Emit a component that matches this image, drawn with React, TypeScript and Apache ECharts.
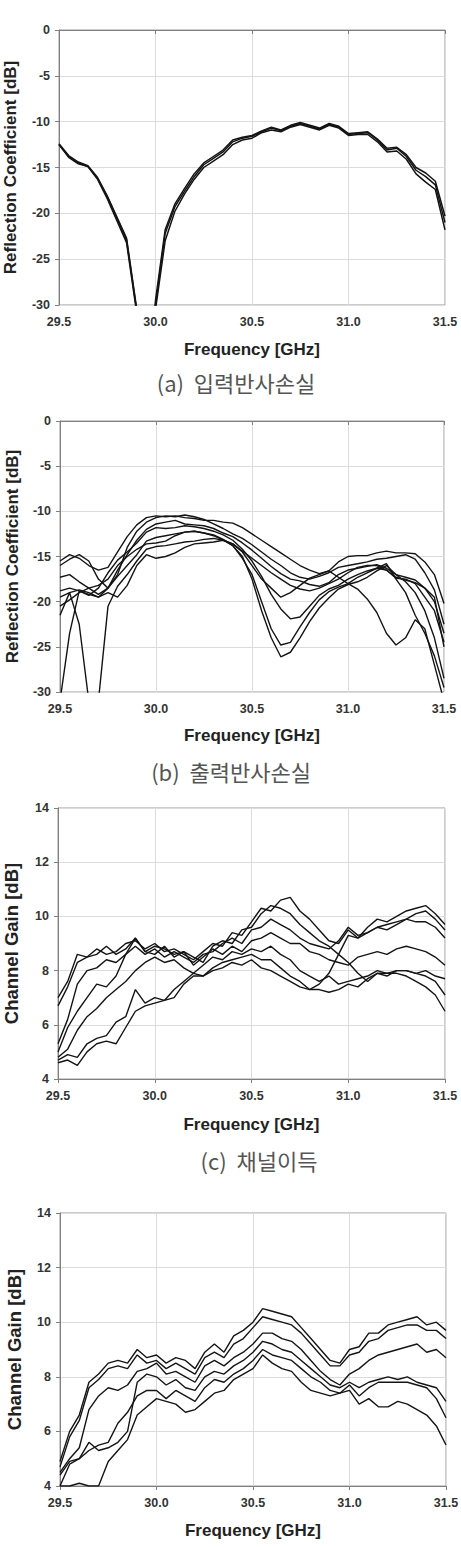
import React, { useEffect, useRef } from "react";
import * as echarts from "echarts";

// Frequency grid [GHz]
const FREQ = [
  29.5, 29.55, 29.6, 29.65, 29.7, 29.75, 29.8, 29.85, 29.9, 29.95,
  30.0, 30.05, 30.1, 30.15, 30.2, 30.25, 30.3, 30.35, 30.4, 30.45,
  30.5, 30.55, 30.6, 30.65, 30.7, 30.75, 30.8, 30.85, 30.9, 30.95,
  31.0, 31.05, 31.1, 31.15, 31.2, 31.25, 31.3, 31.35, 31.4, 31.45, 31.5,
];

const X_TICKS = [29.5, 30.0, 30.5, 31.0, 31.5];
const Y_TICKS_RL = [0, -5, -10, -15, -20, -25, -30];
const Y_TICKS_GAIN = [4, 6, 8, 10, 12, 14];

// (a) input reflection loss [dB]
const A1 = [-12.5, -13.8, -14.5, -14.9, -16.2, -18.2, -20.5, -22.9, -30.2, -40, -30.0, -22.2, -19.3, -17.6, -16.0, -14.7, -14.0, -13.3, -12.2, -11.8, -11.6, -11.1, -10.7, -11.0, -10.5, -10.2, -10.5, -10.8, -10.3, -10.6, -11.4, -11.3, -11.2, -12.0, -13.1, -12.9, -13.8, -15.3, -16.0, -16.9, -21.0];
const A2 = [-12.5, -13.9, -14.6, -14.9, -16.3, -18.4, -20.8, -23.2, -30.5, -40, -30.5, -23.0, -19.8, -17.9, -16.3, -15.0, -14.3, -13.6, -12.5, -12.0, -11.8, -11.2, -10.9, -11.1, -10.6, -10.3, -10.6, -10.9, -10.4, -10.7, -11.5, -11.4, -11.4, -12.2, -13.3, -13.2, -14.1, -15.7, -16.6, -17.4, -21.8];
const A3 = [-12.4, -13.7, -14.4, -14.8, -16.1, -18.1, -20.4, -22.7, -30.0, -40, -29.5, -21.8, -19.0, -17.3, -15.7, -14.5, -13.8, -13.1, -12.0, -11.7, -11.5, -11.0, -10.6, -10.9, -10.4, -10.1, -10.4, -10.7, -10.2, -10.5, -11.3, -11.2, -11.1, -11.9, -12.9, -12.8, -13.6, -15.0, -15.6, -16.5, -20.3];

// (b) output reflection loss [dB]
const B1 = [-15.5, -14.8, -15.2, -16.0, -16.5, -16.2, -14.5, -12.8, -11.5, -10.7, -10.5, -10.6, -10.5, -10.7, -10.8, -11.0, -11.0, -11.2, -11.3, -11.8, -12.5, -13.2, -13.9, -14.6, -15.3, -16.0, -16.5, -16.9, -16.6, -15.6, -15.0, -14.9, -14.9, -14.6, -14.4, -14.6, -14.6, -14.7, -15.6, -17.0, -20.2];
const B2 = [-16.0, -15.3, -14.8, -15.5, -17.5, -18.5, -17.0, -14.0, -12.2, -11.2, -10.7, -10.5, -10.6, -10.4, -10.6, -10.9, -11.4, -11.9, -12.5, -13.0, -13.7, -14.5, -15.3, -16.0, -16.8, -17.3, -17.5, -17.2, -16.8, -16.2, -16.0, -15.8, -15.6, -15.3, -15.2, -15.0, -14.8, -15.3, -16.8, -18.7, -22.5];
const B3 = [-17.3, -17.0, -17.8, -18.5, -19.2, -18.5, -16.5, -14.8, -13.2, -12.0, -11.4, -11.2, -11.0, -11.4, -11.5, -11.6, -11.9, -12.4, -12.8, -13.5, -14.3, -15.2, -16.1, -16.9, -17.5, -17.7, -18.1, -18.3, -17.9, -17.0, -16.5, -16.3, -16.1, -15.9, -16.3, -17.0, -17.3, -17.6, -18.5, -20.0, -23.5];
const B4 = [-18.8, -18.5, -18.8, -19.3, -18.5, -16.8, -15.4, -14.5, -13.5, -12.3, -11.8, -11.9, -11.8, -11.6, -11.7, -11.9, -12.2, -12.6, -13.2, -14.2, -15.5, -17.2, -19.2, -20.8, -21.9, -21.7, -20.5, -19.3, -18.6, -18.2, -17.5, -17.0, -16.6, -16.3, -16.5, -17.4, -17.5, -18.0, -19.5, -21.0, -24.5];
const B5 = [-19.5, -19.0, -18.7, -19.0, -19.5, -18.5, -17.2, -16.0, -14.8, -13.3, -12.9, -12.7, -12.5, -12.3, -12.2, -12.4, -12.6, -13.1, -13.8, -15.0, -17.5, -21.0, -24.0, -26.1, -25.6, -24.0, -22.2, -20.7, -19.6, -18.6, -18.1, -17.8, -17.3, -16.6, -16.0, -17.0, -17.8, -19.0, -21.0, -24.0, -28.5];
const B6 = [-20.5, -19.8, -19.0, -18.5, -18.2, -17.5, -16.0, -15.0, -14.2, -13.6, -13.5, -13.3, -12.7, -12.3, -12.2, -12.4, -12.7, -13.2, -13.8, -15.2, -17.0, -20.0, -23.0, -24.8, -24.5, -22.8, -21.2, -19.8, -18.9, -18.4, -18.0, -17.3, -16.8, -16.3, -15.8, -17.5, -19.0, -21.5, -23.5, -26.0, -29.5];
const B7 = [-31.0, -23.5, -18.8, -19.2, -19.5, -19.0, -19.5, -18.2, -16.0, -14.8, -15.2, -15.0, -14.6, -14.0, -13.6, -13.5, -13.4, -13.2, -13.6, -14.5, -16.0, -17.5, -18.5, -19.5, -19.0, -18.2, -17.4, -17.0, -16.6, -17.3, -18.0, -18.6, -19.7, -21.2, -23.5, -24.8, -24.0, -22.0, -23.0, -27.0, -31.0];
const B8 = [-21.5, -19.0, -22.5, -31.0, -31.0, -20.5, -18.3, -17.0, -15.5, -14.2, -13.9, -13.8, -13.6, -13.4, -13.3, -13.1, -13.0, -13.2, -13.6, -14.4, -15.2, -16.0, -16.8, -17.5, -18.2, -18.6, -18.8, -18.5, -18.0, -17.5, -16.8, -16.2, -16.0, -16.0, -16.5, -17.3, -17.6, -17.9, -18.5, -19.5, -25.0];

// (c) channel gain [dB]
const C1 = [7.0, 7.6, 8.6, 8.5, 8.8, 8.6, 8.7, 9.0, 9.1, 8.8, 9.0, 8.7, 8.8, 8.6, 8.4, 8.7, 9.0, 8.9, 9.4, 9.3, 9.8, 10.3, 10.2, 10.6, 10.7, 10.2, 9.9, 9.5, 9.1, 9.0, 9.5, 9.2, 9.6, 9.9, 9.8, 10.0, 10.2, 10.3, 10.4, 10.1, 9.7];
const C2 = [6.7, 7.4, 8.3, 8.5, 8.6, 8.9, 8.6, 8.8, 9.2, 8.7, 8.9, 8.8, 8.6, 8.7, 8.5, 8.3, 8.9, 9.1, 9.0, 9.5, 9.6, 10.1, 10.4, 10.3, 10.1, 9.7, 9.4, 9.1, 8.9, 8.6, 8.3, 7.9, 7.6, 7.9, 7.8, 8.0, 8.0, 7.9, 8.0, 7.8, 7.7];
const C3 = [5.3, 6.2, 7.5, 8.0, 8.1, 8.4, 8.3, 8.6, 8.9, 8.6, 8.8, 8.5, 8.7, 8.5, 8.3, 8.6, 8.7, 9.0, 9.2, 9.0, 9.5, 9.6, 9.9, 9.7, 9.5, 9.2, 9.0, 8.9, 8.8, 9.1, 9.6, 9.3, 9.4, 9.6, 9.5, 9.7, 9.9, 9.8, 9.8, 9.6, 9.2];
const C4 = [5.0, 5.9, 6.5, 7.0, 7.5, 7.4, 7.8, 8.6, 9.2, 8.7, 8.6, 8.9, 8.5, 8.7, 8.2, 8.5, 8.8, 8.6, 8.9, 8.7, 9.1, 9.2, 9.4, 9.2, 9.0, 9.0, 8.7, 8.6, 8.4, 8.3, 8.2, 8.5, 8.6, 8.7, 8.6, 8.8, 8.9, 8.8, 8.7, 8.5, 8.2];
const C5 = [4.8, 5.1, 5.8, 6.3, 6.6, 7.0, 7.3, 7.6, 8.0, 8.3, 8.5, 8.3, 8.4, 8.1, 7.9, 8.2, 8.5, 8.4, 8.7, 8.6, 8.8, 8.7, 8.9, 8.6, 8.4, 8.0, 7.8, 7.6, 7.8, 7.5, 7.6, 7.7, 7.8, 8.0, 7.9, 8.0, 8.0, 7.9, 7.8, 7.6, 7.1];
const C6 = [4.7, 4.9, 4.8, 5.3, 5.5, 5.6, 6.1, 6.3, 7.3, 6.8, 7.0, 6.9, 7.3, 7.6, 7.9, 7.8, 8.1, 8.3, 8.4, 8.5, 8.6, 8.4, 8.4, 8.1, 7.8, 7.6, 7.3, 7.5, 7.9, 8.6, 9.3, 9.2, 9.4, 9.6, 9.7, 9.8, 9.9, 10.1, 10.2, 9.9, 9.5];
const C7 = [4.6, 4.7, 4.5, 5.0, 5.3, 5.4, 5.3, 5.9, 6.5, 6.7, 6.8, 6.9, 7.0, 7.5, 7.8, 7.8, 8.0, 8.1, 8.3, 8.2, 8.4, 8.1, 8.0, 7.8, 7.6, 7.4, 7.3, 7.3, 7.2, 7.3, 7.5, 7.4, 7.7, 7.9, 7.9, 7.9, 7.8, 7.6, 7.4, 7.1, 6.5];

// (d) channel gain [dB]
const D1 = [4.9, 6.0, 6.6, 7.8, 8.1, 8.5, 8.6, 8.5, 9.0, 8.7, 8.8, 8.5, 8.7, 8.6, 8.3, 8.9, 9.2, 8.9, 9.5, 9.7, 10.0, 10.5, 10.4, 10.3, 10.2, 9.8, 9.4, 9.0, 8.6, 8.5, 9.0, 9.1, 9.6, 9.6, 9.9, 10.0, 10.1, 10.2, 9.9, 10.0, 9.7];
const D2 = [4.7, 5.8, 6.4, 7.6, 7.9, 8.3, 8.4, 8.3, 8.8, 8.5, 8.6, 8.3, 8.5, 8.3, 8.1, 8.7, 8.9, 8.7, 9.2, 9.4, 9.8, 10.2, 10.1, 10.0, 9.9, 9.6, 9.2, 8.8, 8.4, 8.4, 8.8, 8.9, 9.3, 9.4, 9.7, 9.8, 9.9, 9.9, 9.7, 9.7, 9.4];
const D3 = [4.5, 5.0, 5.4, 6.8, 7.3, 7.6, 7.5, 7.7, 8.2, 8.3, 8.5, 8.1, 8.2, 8.0, 7.8, 8.4, 8.6, 8.4, 8.7, 8.9, 9.2, 9.6, 9.6, 9.4, 9.3, 9.0, 8.6, 8.2, 7.9, 7.7, 8.1, 8.3, 8.6, 8.8, 8.9, 9.0, 9.1, 9.2, 8.9, 9.0, 8.7];
const D4 = [4.4, 4.9, 5.0, 5.6, 5.3, 5.4, 5.6, 6.0, 7.8, 8.1, 8.0, 7.7, 7.9, 7.6, 7.5, 8.0, 8.2, 8.1, 8.4, 8.6, 8.9, 9.3, 9.2, 9.0, 8.9, 8.6, 8.3, 8.0, 7.7, 7.6, 7.8, 7.6, 7.8, 7.9, 8.0, 7.9, 8.0, 7.8, 7.7, 7.6, 7.1];
const D5 = [4.0, 4.8, 5.0, 5.3, 5.5, 5.6, 6.3, 6.7, 7.3, 7.5, 7.5, 7.2, 7.5, 7.3, 7.1, 7.6, 7.9, 7.8, 8.1, 8.3, 8.6, 9.0, 8.8, 8.7, 8.6, 8.3, 8.0, 7.8, 7.5, 7.4, 7.7, 7.3, 7.6, 7.8, 7.8, 7.8, 7.8, 7.7, 7.6, 7.2, 6.5];
const D6 = [4.0, 4.0, 4.1, 4.0, 4.0, 4.9, 5.3, 5.7, 6.6, 6.9, 7.2, 7.1, 7.0, 6.7, 6.8, 7.1, 7.4, 7.5, 7.9, 8.1, 8.3, 8.8, 8.5, 8.3, 8.2, 7.8, 7.5, 7.4, 7.3, 7.4, 7.5, 7.0, 7.2, 6.9, 6.9, 7.1, 7.0, 6.8, 6.6, 6.2, 5.5];

const X_TITLE = "Frequency [GHz]";
const Y_TITLE_RL = "Reflection Coefficient [dB]";
const Y_TITLE_GAIN = "Channel Gain [dB]";
const CAPTIONS = ["(a)  입력반사손실", "(b)  출력반사손실", "(c)  채널이득"];

const PANELS = [
  { grid: { left: 59, top: 30, width: 386, height: 275 }, yTicks: Y_TICKS_RL, yTitle: Y_TITLE_RL, series: [A1, A2, A3], yGap: 40, xGap: 36, yTitleSize: 17, lw: 1.5 },
  { grid: { left: 60, top: 421, width: 384, height: 271 }, yTicks: Y_TICKS_RL, yTitle: Y_TITLE_RL, series: [B1, B2, B3, B4, B5, B6, B7, B8], yGap: 39, xGap: 35, yTitleSize: 17, lw: 1.4 },
  { grid: { left: 58, top: 808, width: 387, height: 271 }, yTicks: Y_TICKS_GAIN, yTitle: Y_TITLE_GAIN, series: [C1, C2, C3, C4, C5, C6, C7], yGap: 37, xGap: 37, yTitleSize: 18.5, lw: 1.4 },
  { grid: { left: 60, top: 1213, width: 386, height: 273 }, yTicks: Y_TICKS_GAIN, yTitle: Y_TITLE_GAIN, series: [D1, D2, D3, D4, D5, D6], yGap: 36, xGap: 36, yTitleSize: 18.5, lw: 1.4 },
];

const CAPTION_POS = [
  { x: 236, y: 382 },
  { x: 231, y: 771 },
  { x: 259, y: 1160 },
];

const FONT = '"Liberation Sans", Arial, Helvetica, sans-serif';

export default function App() {
  const ref = useRef<HTMLDivElement>(null);

  useEffect(() => {
    if (!ref.current) return;
    const chart = echarts.init(ref.current, null, { renderer: "svg" });

    const grids: any[] = [];
    const xAxes: any[] = [];
    const yAxes: any[] = [];
    const series: any[] = [];

    PANELS.forEach((p, i) => {
      grids.push({
        ...p.grid,
        containLabel: false,
        outerBoundsMode: "none",
        show: true,
        borderColor: "#9a9a9a",
        borderWidth: 1,
        backgroundColor: "#fff",
      });
      const yMin = Math.min(...p.yTicks);
      const yMax = Math.max(...p.yTicks);
      const yInt = Math.abs(p.yTicks[1] - p.yTicks[0]);
      xAxes.push({
        type: "value",
        gridIndex: i,
        min: X_TICKS[0],
        max: X_TICKS[X_TICKS.length - 1],
        interval: 0.5,
        name: X_TITLE,
        nameLocation: "middle",
        nameGap: p.xGap,
        nameTextStyle: { fontFamily: FONT, fontWeight: "bold", fontSize: 17, color: "#222" },
        axisLine: { show: true, lineStyle: { color: "#808080", width: 1 } },
        axisTick: { show: true, inside: false, length: 4, lineStyle: { color: "#808080" } },
        axisLabel: { margin: 10, fontFamily: FONT, fontWeight: "bold", fontSize: 12.5, color: "#333", formatter: (v: number) => v.toFixed(1) },
        splitLine: { show: true, lineStyle: { color: "#dcdcdc", width: 1 } },
      });
      yAxes.push({
        type: "value",
        gridIndex: i,
        min: yMin,
        max: yMax,
        interval: yInt,
        name: p.yTitle,
        nameLocation: "middle",
        nameGap: p.yGap,
        nameTextStyle: { fontFamily: FONT, fontWeight: "bold", fontSize: p.yTitleSize, color: "#222" },
        axisLine: { show: true, lineStyle: { color: "#808080", width: 1 } },
        axisTick: { show: true, inside: false, length: 4, lineStyle: { color: "#808080" } },
        axisLabel: { margin: 9, fontFamily: FONT, fontWeight: "bold", fontSize: 12.5, color: "#333" },
        splitLine: { show: true, lineStyle: { color: "#dcdcdc", width: 1 } },
      });
      p.series.forEach((vals) => {
        series.push({
          type: "line",
          xAxisIndex: i,
          yAxisIndex: i,
          data: FREQ.map((f, k) => [f, vals[k]]),
          showSymbol: false,
          symbol: "none",
          clip: true,
          lineStyle: { color: "#141414", width: p.lw },
          emphasis: { disabled: true },
        });
      });
    });

    const graphic = CAPTIONS.map((t, i) => ({
      type: "text",
      x: CAPTION_POS[i].x,
      y: CAPTION_POS[i].y,
      style: {
        text: t,
        fill: "#555",
        font: '22px "Noto Sans CJK KR", "Noto Sans", sans-serif',
        align: "center",
        verticalAlign: "middle",
      },
    }));

    chart.setOption({
      animation: false,
      backgroundColor: "#fff",
      grid: grids,
      xAxis: xAxes,
      yAxis: yAxes,
      series,
      graphic,
    });

    return () => chart.dispose();
  }, []);

  return (
    <div
      ref={ref}
      style={{ position: "absolute", left: 0, top: 0, width: 461, height: 1547, background: "#fff" }}
    />
  );
}
